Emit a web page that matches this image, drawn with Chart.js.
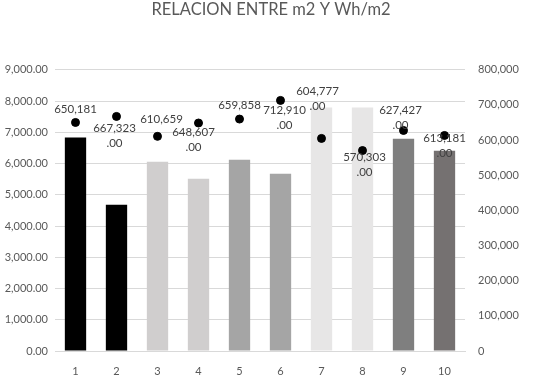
<!DOCTYPE html>
<html>
<head>
<meta charset="utf-8">
<script src="https://cdn.jsdelivr.net/npm/chart.js@4"></script>
<style>
  html, body { margin: 0; padding: 0; background: #fff; }
  #wrap { width: 542px; height: 381px; }
</style>
</head>
<body>
<div id="wrap"><canvas id="myChart" width="542" height="381"></canvas></div>
<script>
const categories = ['1', '2', '3', '4', '5', '6', '7', '8', '9', '10'];
const areaValues = [6830, 4680, 6060, 5510, 6120, 5670, 7790, 7790, 6790, 6410];
const whValues = [650181, 667323, 610659, 648607, 659858, 712910, 604777, 570303, 627427, 613181];
const barColors = ['#000000', '#000000', '#d0cece', '#d0cece', '#a5a5a5', '#a5a5a5', '#e7e6e6', '#e7e6e6', '#7f7f7f', '#757171'];
// labels that Excel wrapped into a second ".00" line
const wrapped = [false, true, false, true, false, true, true, true, true, true];
// label offsets from the dot (x, y of first line centre)
const labelOffsets = [[0, -13], [-2, 12], [4, -17], [-5, 9], [0, -14], [4, 10], [-4, -47], [2, 7], [-3, -20], [0, 3]];

const fmtInt = v => v.toLocaleString('en-US');
const fmtDec = v => v.toLocaleString('en-US', { minimumFractionDigits: 2, maximumFractionDigits: 2 });

const pointLabels = {
    id: 'pointLabels',
    afterDatasetsDraw(chart) {
        const ctx = chart.ctx;
        const meta = chart.getDatasetMeta(1);
        ctx.save();
        ctx.font = '11.5px Lato';
        ctx.fillStyle = '#404040';
        ctx.textAlign = 'center';
        ctx.textBaseline = 'middle';
        meta.data.forEach((pt, i) => {
            const x = pt.x + labelOffsets[i][0];
            const y = pt.y + labelOffsets[i][1];
            ctx.fillText(fmtInt(whValues[i]), x, y);
            if (wrapped[i]) ctx.fillText('.00', x, y + 15);
        });
        ctx.restore();
    }
};

const ctx = document.getElementById('myChart').getContext('2d');
new Chart(ctx, {
    data: {
        labels: categories,
        datasets: [
            {
                type: 'bar',
                label: 'm2',
                data: areaValues,
                backgroundColor: barColors,
                yAxisID: 'y',
                order: 2,
                categoryPercentage: 1,
                barPercentage: 0.52
            },
            {
                type: 'line',
                label: 'Wh/m2',
                data: whValues,
                showLine: false,
                pointRadius: 4,
                pointBackgroundColor: '#000',
                pointBorderColor: '#000',
                yAxisID: 'y1',
                order: 1
            }
        ]
    },
    options: {
        responsive: false,
        animation: false,
        layout: { padding: { left: 0, right: 0, top: 0, bottom: 0 } },
        plugins: {
            legend: { display: false },
            tooltip: { enabled: false },
            title: {
                display: true,
                text: 'RELACION ENTRE m2 Y Wh/m2',
                color: '#595959',
                font: { family: 'Lato', size: 16.5, weight: 'normal' },
                padding: { top: 0, bottom: 50 }
            }
        },
        scales: {
            x: {
                grid: { display: false },
                border: { color: '#d9d9d9' },
                ticks: { color: '#595959', font: { family: 'Lato', size: 11 }, padding: 6 },
                afterFit(s) { s.height = 30; }
            },
            y: {
                position: 'left',
                min: 0,
                max: 9000,
                ticks: {
                    stepSize: 1000,
                    color: '#595959',
                    font: { family: 'Lato', size: 11 },
                    callback: v => fmtDec(v),
                    padding: 7
                },
                grid: { color: '#d9d9d9', drawTicks: false },
                border: { display: false },
                afterFit(s) { s.width = 55; }
            },
            y1: {
                position: 'right',
                min: 0,
                max: 800000,
                ticks: {
                    stepSize: 100000,
                    color: '#595959',
                    font: { family: 'Lato', size: 11 },
                    callback: v => fmtInt(v),
                    padding: 13
                },
                grid: { display: false, drawTicks: false },
                border: { display: false },
                afterFit(s) { s.width = 77; }
            }
        }
    },
    plugins: [pointLabels]
});
</script>
</body>
</html>
